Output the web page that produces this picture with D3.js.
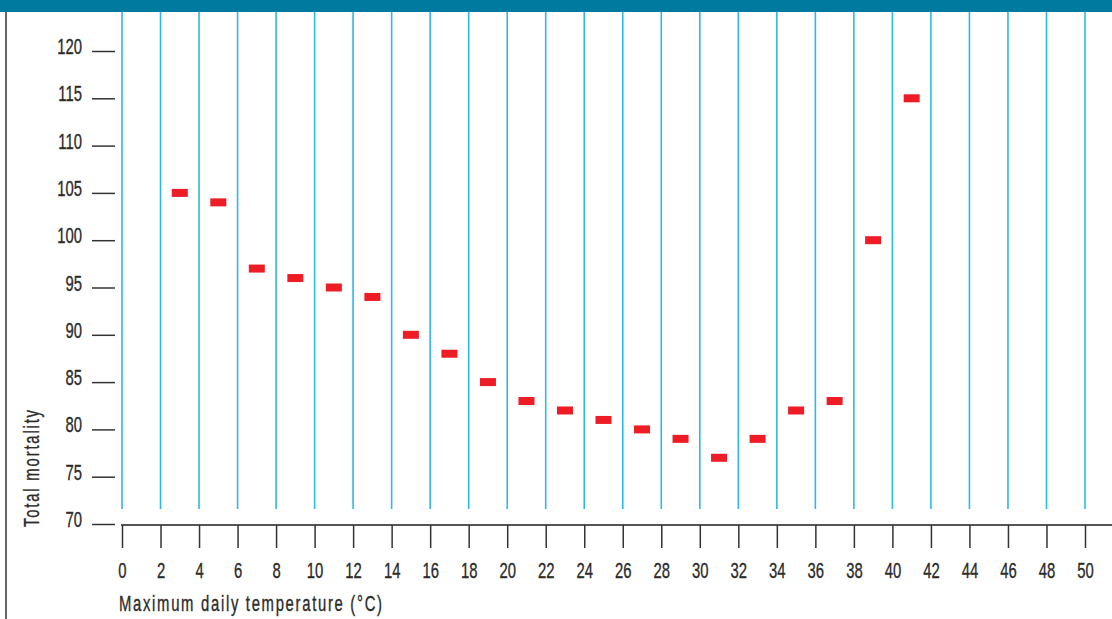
<!DOCTYPE html>
<html><head><meta charset="utf-8">
<script src="https://cdn.jsdelivr.net/npm/d3@7"></script>
<style>body{margin:0;background:#fff}svg{display:block}
text{font-family:'Liberation Sans',Arial,sans-serif;stroke:#2b2b2b;stroke-width:0.35px;}</style>
</head><body>
<script>
const temperatures = [3,5,7,9,11,13,15,17,19,21,23,25,27,29,31,33,35,37,39,41];
const mortality = [105,104,97,96,95,94,90,88,85,83,82,81,80,79,77,79,82,83,100,115];
const xTicks = d3.range(0, 51, 2);
const yTicks = [70,75,80,85,90,95,100,105,110,115,120];
const xTitle = "Maximum daily temperature (°C)";
const yTitle = "Total mortality";

const W = 1112, H = 619, FS = 21.5, SX = 0.69, TXT = "#2b2b2b";
const svg = d3.select("body").append("svg").attr("width", W).attr("height", H);

const x = d3.scaleLinear().domain([0, 50]).range([122, 1085]);
const y = d3.scaleLinear().domain([70, 120]).range([524, 51]);

function condense(sel) {
  sel.each(function() {
    const t = d3.select(this);
    const tx = +t.attr("x") || 0, ty = +t.attr("y") || 0;
    t.attr("x", 0).attr("y", 0).attr("transform", `translate(${tx},${ty}) scale(${SX},1)`);
  });
}

svg.append("rect").attr("x", 0).attr("y", 0).attr("width", W).attr("height", 12).attr("fill", "#007b9f");
svg.append("line").attr("x1", 6).attr("x2", 6).attr("y1", 12).attr("y2", H).attr("stroke", "#666").attr("stroke-width", 2);

svg.append("g").selectAll("line").data(xTicks).join("line")
  .attr("x1", d => x(d)).attr("x2", d => x(d)).attr("y1", 12).attr("y2", 509)
  .attr("stroke", "#2bb8ea").attr("stroke-width", 1.6);

const xAxis = svg.append("g").attr("transform", "translate(0,525)")
  .call(d3.axisBottom(x).tickValues(xTicks).tickSize(23).tickPadding(15).tickFormat(d3.format("d")));
xAxis.select(".domain").attr("d", `M${x(0)-1},0H${W}`).attr("stroke", "#555").attr("stroke-width", 2);
xAxis.selectAll(".tick line").attr("stroke", "#333").attr("stroke-width", 1.5);
xAxis.selectAll(".tick text").attr("fill", TXT).attr("font-size", FS).attr("font-family", null).call(condense);

const yAxis = svg.append("g").attr("transform", "translate(115,0)")
  .call(d3.axisLeft(y).tickValues(yTicks).tickSize(23).tickPadding(10).tickFormat(d3.format("d")));
yAxis.select(".domain").remove();
yAxis.selectAll(".tick line").attr("stroke", "#333").attr("stroke-width", 1.5);
yAxis.selectAll(".tick text").attr("fill", TXT).attr("font-size", FS).attr("font-family", null).attr("dy", "0.12em").call(condense);

svg.append("g").selectAll("rect").data(temperatures).join("rect")
  .attr("x", d => x(d) - 8).attr("y", (d, i) => y(mortality[i]) - 4)
  .attr("width", 16).attr("height", 8).attr("fill", "#ee1c25");

svg.append("text").attr("transform", `translate(119,611) scale(${SX},1)`).attr("fill", TXT)
  .attr("font-size", FS).attr("textLength", 263 / SX).attr("lengthAdjust", "spacing").text(xTitle);
svg.append("text").attr("transform", `translate(39,527) rotate(-90) scale(${SX},1)`).attr("fill", TXT)
  .attr("font-size", FS).attr("textLength", 117 / SX).attr("lengthAdjust", "spacing").text(yTitle);
</script>
</body></html>
